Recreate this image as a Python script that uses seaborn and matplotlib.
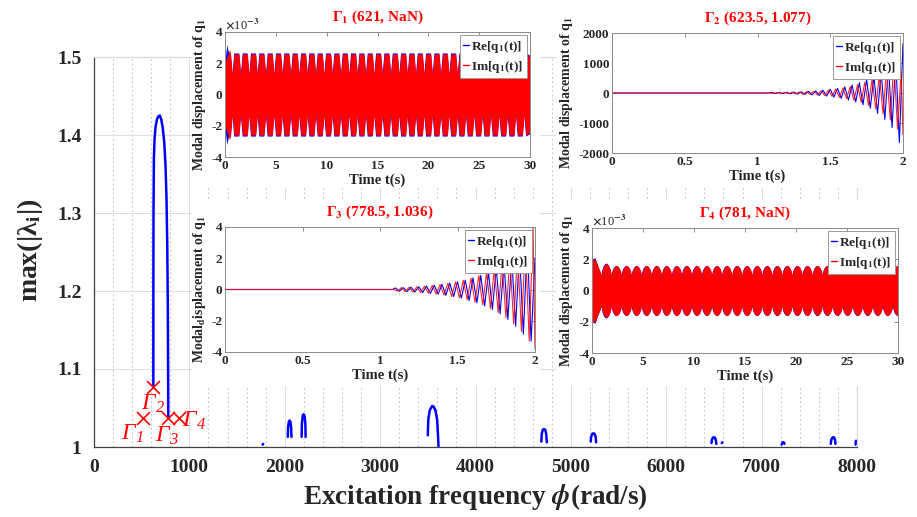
import numpy as np
import pandas as pd
import matplotlib
matplotlib.use("Agg")
import matplotlib.pyplot as plt
import seaborn as sns
from matplotlib.patches import Rectangle
from matplotlib.lines import Line2D

sns.set_style("white")
plt.rcParams.update({
    "font.family": ["Liberation Serif", "DejaVu Serif"],
    "font.weight": "bold",
    "axes.labelweight": "bold",
    "axes.titleweight": "bold",
    "mathtext.fontset": "stix",
    "axes.unicode_minus": False,
})

# ---------------- main chart data ----------------
main_xticks = [0, 1000, 2000, 3000, 4000, 5000, 6000, 7000, 8000]
main_xtick_labels = ["0", "1000", "2000", "3000", "4000", "5000", "6000", "7000", "8000"]
main_yticks = [1.0, 1.1, 1.2, 1.3, 1.4, 1.5]
main_ytick_labels = ["1", "1.1", "1.2", "1.3", "1.4", "1.5"]

peak_x = [622, 622.5, 624, 628, 635, 645, 660, 675, 690, 705, 720, 737, 750, 760, 768, 774, 777, 779]
peak_y = [1.077, 1.20, 1.30, 1.37, 1.395, 1.41, 1.42, 1.424, 1.425, 1.42, 1.41, 1.39, 1.36, 1.32, 1.26, 1.18, 1.10, 1.036]

small_x = [
    [1768, 1774],
    [2032, 2035, 2042, 2051, 2060, 2067, 2070],
    [2177, 2180, 2188, 2198, 2208, 2216, 2219],
    [3500, 3505, 3520, 3545, 3560, 3580, 3598, 3607, 3612],
    [4690, 4695, 4705, 4718, 4732, 4742, 4748],
    [5208, 5212, 5225, 5236, 5248, 5260, 5265],
    [6474, 6478, 6490, 6500, 6510, 6520, 6525],
    [6582, 6588],
    [7210, 7220, 7232, 7240],
    [7725, 7730, 7742, 7752, 7762, 7770, 7774],
    [7985, 7987, 7990],
]
small_y = [
    [1.003, 1.004],
    [1.013, 1.025, 1.032, 1.034, 1.032, 1.025, 1.013],
    [1.013, 1.030, 1.040, 1.042, 1.040, 1.030, 1.013],
    [1.015, 1.035, 1.047, 1.0525, 1.052, 1.047, 1.035, 1.015, 1.001],
    [1.007, 1.017, 1.022, 1.023, 1.022, 1.016, 1.006],
    [1.007, 1.013, 1.017, 1.0175, 1.017, 1.013, 1.006],
    [1.005, 1.009, 1.012, 1.0125, 1.012, 1.009, 1.004],
    [1.005, 1.006],
    [1.003, 1.006, 1.006, 1.004],
    [1.004, 1.009, 1.012, 1.0125, 1.012, 1.009, 1.004],
    [1.003, 1.007, 1.008],
]

gamma_names = ["Γ$_{\\mathregular{1}}$", "Γ$_{\\mathregular{2}}$",
               "Γ$_{\\mathregular{3}}$", "Γ$_{\\mathregular{4}}$"]
gamma_x = [514, 616, 773, 892]
gamma_y = [1.037, 1.077, 1.037, 1.037]

# ---------------- inset data ----------------
inset_titles = ["Γ$_\\mathbf{1}$ (621, NaN)", "Γ$_\\mathbf{2}$ (623.5, 1.077)",
                "Γ$_\\mathbf{3}$ (778.5, 1.036)", "Γ$_\\mathbf{4}$ (781, NaN)"]
legend_labels = ["Re[q$_\\mathbf{1}$(t)]", "Im[q$_\\mathbf{1}$(t)]"]

# Γ1: envelope (x10^-3) of the dense response
g1_init_t = [0.0, 0.0, 0.18, 0.30, 0.45, 0.55]
g1_re_init = [0.0, 2.2, 3.2, 2.8, 2.6, 2.6]
g1_im_init = [0.0, 2.0, 2.4, 2.6, 2.9, 2.6]
g1_gap_t = [0.72, 1.55, 2.37, 3.19, 4.01, 4.83, 5.65, 6.47, 7.29, 8.11, 8.93, 9.75,
            10.57, 11.39, 12.21, 13.03, 13.85, 14.67, 15.49, 16.31, 17.13, 17.95, 18.77,
            19.59, 20.41, 21.23, 22.05, 22.87, 23.69, 24.51, 25.33, 26.15, 26.97, 27.79,
            28.61, 29.43]
g1_re_top, g1_im_top, g1_core = 2.66, 2.6, 1.3
g1_end_re, g1_end_im = 2.5, 2.4

# Γ4: envelope (x10^-3)
g4_init_t = [0.0, 0.0, 0.30, 0.55, 0.80]
g4_re_init = [0.0, 2.0, 2.1, 1.6, 1.2]
g4_im_init = [0.0, 2.0, 2.0, 1.6, 1.2]
g4_bump_t = [1.40, 2.39, 3.37, 4.36, 5.34, 6.33, 7.31, 8.30, 9.28, 10.27, 11.25, 12.24,
             13.22, 14.21, 15.19, 16.18, 17.16, 18.15, 19.13, 20.12, 21.10, 22.09, 23.07,
             24.06, 25.04, 26.03, 27.01, 28.00, 28.98, 29.97]
g4_re_top, g4_im_top, g4_first_top, g4_cusp = 1.61, 1.6, 1.72, 1.0
bump_off = [-0.49, -0.40, -0.28, -0.14, 0.0, 0.14, 0.28, 0.40]
bump_frac = [0.0, 0.45, 0.75, 0.93, 1.0, 0.93, 0.75, 0.45]

# Γ2 / Γ3: extrema of the growing oscillation
re_t = [0.0, 1.08, 1.100, 1.125, 1.150, 1.175, 1.200, 1.225, 1.250, 1.275, 1.300, 1.325,
        1.350, 1.375, 1.400, 1.425, 1.450, 1.475, 1.500, 1.525, 1.550, 1.575, 1.600,
        1.625, 1.650, 1.675, 1.700, 1.725, 1.750, 1.775, 1.800, 1.825, 1.850, 1.875,
        1.900, 1.925, 1.950, 1.975, 2.000]
im_t = [0.0, 1.09, 1.1125, 1.1375, 1.1625, 1.1875, 1.2125, 1.2375, 1.2625, 1.2875,
        1.3125, 1.3375, 1.3625, 1.3875, 1.4125, 1.4375, 1.4625, 1.4875, 1.5125, 1.5375,
        1.5625, 1.5875, 1.6125, 1.6375, 1.6625, 1.6875, 1.7125, 1.7375, 1.7625, 1.7875,
        1.8125, 1.8375, 1.8625, 1.8875, 1.9125, 1.9375, 1.9625, 1.9875, 2.0]
g3_re_v = [0.0, 0.0, 0.10, -0.11, 0.12, -0.13, 0.15, -0.16, 0.18, -0.20, 0.22, -0.25,
           0.27, -0.30, 0.33, -0.37, 0.41, -0.45, 0.50, -0.56, 0.60, -0.70, 0.74, -0.85,
           0.90, -1.05, 1.10, -1.28, 1.35, -1.55, 1.65, -1.92, 2.0, -2.35, 2.45, -2.85,
           2.9, -3.3, 2.0]
g3_im_v = [0.0, 0.0, -0.10, 0.12, -0.13, 0.14, -0.16, 0.17, -0.19, 0.21, -0.24, 0.26,
           -0.29, 0.32, -0.35, 0.39, -0.44, 0.48, -0.53, 0.59, -0.65, 0.73, -0.80, 0.90,
           -0.98, 1.10, -1.20, 1.35, -1.48, 1.65, -1.80, 2.05, -2.2, 2.5, -2.7, 3.05,
           -3.3, 4.0, -3.8]
g2_re_v = [0, 0, 15, -17, 19, -22, 25, -29, 33, -37, 42, -48, 55, -62, 71, -81, 92, -105,
           120, -137, 156, -178, 203, -231, 263, -300, 342, -390, 445, -507, 560, -680,
           720, -880, 900, -1150, 1150, -1650, 1650]
g2_im_v = [0, 0, -14, 16, -18, 20, -23, 27, -30, 34, -39, 44, -50, 57, -65, 74, -85, 97,
           -110, 126, -143, 163, -186, 212, -241, 275, -314, 358, -408, 465, -530, 600,
           -690, 800, -900, 1000, -1200, 700, -1400]

BLUE, RED = "#0000FF", "#FF0000"

# ---------------- figure ----------------
W, H = 917, 517
fig = plt.figure(figsize=(W / 100, H / 100), dpi=100)


def frect(l, t, r, b):
    return [l / W, 1 - b / H, (r - l) / W, (b - t) / H]


ax = fig.add_axes(frect(94, 57, 857, 447))
ax.set_zorder(0)

rows = []
for i, (xs, ys) in enumerate(zip([peak_x] + small_x, [peak_y] + small_y)):
    for xv, yv in zip(xs, ys):
        rows.append((i, xv, yv))
df_main = pd.DataFrame(rows, columns=["seg", "x", "y"])
sns.lineplot(data=df_main, x="x", y="y", units="seg", estimator=None, sort=False,
             color=BLUE, lw=1.8, ax=ax, legend=False)
sns.scatterplot(x=gamma_x, y=gamma_y, marker="x", s=85, color=RED, linewidth=1.2, ax=ax,
                zorder=5, legend=False)
lab_pos = [(405, 1.017), (617, 1.055), (768, 1.014), (1045, 1.033)]
for name, (lx, ly) in zip(gamma_names, lab_pos):
    ax.text(lx, ly, name, color=RED, fontsize=17, ha="center", va="center",
            fontweight="normal", fontstyle="italic", zorder=6)

ax.set_xlim(0, 8000)
ax.set_ylim(1.0, 1.5)
ax.set_xticks(main_xticks)
ax.set_xticklabels(main_xtick_labels, fontsize=14)
ax.set_xticks(np.arange(0, 8001, 200), minor=True)
ax.set_yticks(main_yticks)
ax.set_yticklabels(main_ytick_labels, fontsize=14)
ax.tick_params(axis="both", which="major", direction="in", length=5, width=0.8,
               color="#404040", pad=9)
ax.tick_params(axis="both", which="minor", length=0)
ax.grid(which="major", color="#dedede", lw=0.8, ls="-")
ax.grid(which="minor", axis="x", color="#c4c4c4", lw=0.8, ls=(0, (1.5, 2.5)))
ax.set_axisbelow(True)
for s in ["left", "bottom"]:
    ax.spines[s].set_color("#404040")
    ax.spines[s].set_linewidth(0.9)
for s in ["top", "right"]:
    ax.spines[s].set_color("#d8d8d8")
ax.set_xlabel("")
ax.set_ylabel("")
fig.text(475 / W, 1 - 497 / H, "Excitation frequency $\\phi$(rad/s)", fontsize=19.5,
         ha="center", va="center")
fig.text(30 / W, 1 - 250 / H, "max(|λ$_\\mathbf{i}$|)", fontsize=20, rotation=90,
         ha="center", va="center")

# white panels carrying the insets
for (l, t, r, b) in [(192, 0, 540, 188), (556, 0, 917, 188),
                     (192, 200, 540, 386), (556, 200, 917, 386)]:
    fig.add_artist(Rectangle((l / W, 1 - b / H), (r - l) / W, (b - t) / H,
                             transform=fig.transFigure, facecolor="white",
                             edgecolor="none", zorder=1))


def make_inset(rect, title):
    a = fig.add_axes(frect(*rect))
    a.set_zorder(2)
    a.set_facecolor("white")
    a.set_title(title, color=RED, fontsize=11, pad=8)
    a.tick_params(direction="in", length=3, width=0.6, color="#777777", top=True,
                  right=True, labelsize=9.5, pad=2)
    for s in a.spines.values():
        s.set_color("#8a8a8a")
        s.set_linewidth(0.7)
    return a


def label_inset(a, ylab):
    a.set_xlabel("Time t(s)", fontsize=10.5, labelpad=1)
    a.set_ylabel(ylab, fontsize=10, labelpad=2)


def add_legend(a):
    h = [Line2D([0], [0], color=BLUE, lw=1), Line2D([0], [0], color=RED, lw=1)]
    leg = a.legend(h, legend_labels, loc="upper right", fontsize=9.5, handlelength=0.4,
                   handletextpad=0.2, borderpad=0.25, labelspacing=0.3, frameon=True,
                   fancybox=False, edgecolor="#999999", framealpha=1, borderaxespad=0.25)
    leg.get_frame().set_linewidth(0.7)
    leg.set_zorder(10)


def notch_env(init_t, init_v, gaps, top, core, end_t, end_v, shift=0.0):
    t, v = list(init_t), list(init_v)
    for g in gaps:
        t += [g + shift - 0.17, g + shift, g + shift + 0.17]
        v += [top, core, top]
    t.append(end_t)
    v.append(end_v)
    return np.array(t), np.array(v)


def bump_env(init_t, init_v, centers, top, first_top, cusp, shift=0.0):
    t, v = list(init_t), list(init_v)
    for k, c in enumerate(centers):
        tp = first_top if k == 0 else top
        for o, f in zip(bump_off, bump_frac):
            t.append(c + shift + o)
            v.append(cusp + f * (tp - cusp))
    return np.array(t), np.array(v)


ylab_std = "Modal displacement of q$_\\mathbf{1}$"

# ---- inset 1 ----
a1 = make_inset((225, 32, 530, 157), inset_titles[0])
t, v = notch_env(g1_init_t, g1_re_init, g1_gap_t, g1_re_top, g1_core, 30.0, g1_end_re, -0.03)
a1.fill_between(t, -v, v, color=BLUE, lw=0)
t, v = notch_env(g1_init_t, g1_im_init, g1_gap_t, g1_im_top, g1_core, 30.0, g1_end_im)
a1.fill_between(t, -v, v, color=RED, lw=0)
a1.set_xlim(0, 30)
a1.set_ylim(-4, 4)
a1.set_xticks([0, 5, 10, 15, 20, 25, 30])
a1.set_xticklabels(["0", "5", "10", "15", "20", "25", "30"])
a1.set_yticks([-4, -2, 0, 2, 4])
a1.set_yticklabels(["-4", "-2", "0", "2", "4"])
a1.text(0.0, 1.005, "$\\times$10$^{-3}$", transform=a1.transAxes, fontsize=9,
        fontweight="normal", ha="left", va="bottom")
label_inset(a1, ylab_std)
add_legend(a1)

# ---- inset 2 ----
a2 = make_inset((612, 33, 903, 153), inset_titles[1])
sns.lineplot(x=re_t, y=g2_re_v, sort=False, estimator=None, color=BLUE, lw=0.8, ax=a2)
sns.lineplot(x=im_t, y=g2_im_v, sort=False, estimator=None, color=RED, lw=0.8, alpha=0.85, ax=a2)
a2.set_xlim(0, 2)
a2.set_ylim(-2000, 2000)
a2.set_xticks([0, 0.5, 1, 1.5, 2])
a2.set_xticklabels(["0", "0.5", "1", "1.5", "2"])
a2.set_yticks([-2000, -1000, 0, 1000, 2000])
a2.set_yticklabels(["-2000", "-1000", "0", "1000", "2000"])
label_inset(a2, ylab_std)
add_legend(a2)

# ---- inset 3 ----
a3 = make_inset((225, 227, 535, 352), inset_titles[2])
sns.lineplot(x=re_t, y=g3_re_v, sort=False, estimator=None, color=BLUE, lw=0.8, ax=a3)
sns.lineplot(x=im_t, y=g3_im_v, sort=False, estimator=None, color=RED, lw=0.8, alpha=0.85, ax=a3)
a3.set_xlim(0, 2)
a3.set_ylim(-4, 4)
a3.set_xticks([0, 0.5, 1, 1.5, 2])
a3.set_xticklabels(["0", "0.5", "1", "1.5", "2"])
a3.set_yticks([-4, -2, 0, 2, 4])
a3.set_yticklabels(["-4", "-2", "0", "2", "4"])
label_inset(a3, "Modal$_\\mathbf{d}$isplacement of q$_\\mathbf{1}$")
add_legend(a3)

# ---- inset 4 ----
a4 = make_inset((592, 228, 898, 353), inset_titles[3])
t, v = bump_env(g4_init_t, g4_re_init, g4_bump_t, g4_re_top, g4_first_top + 0.04, g4_cusp, -0.03)
a4.fill_between(t, -v, v, color=BLUE, lw=0)
t, v = bump_env(g4_init_t, g4_im_init, g4_bump_t, g4_im_top, g4_first_top, g4_cusp)
a4.fill_between(t, -v, v, color=RED, lw=0)
a4.set_xlim(0, 30)
a4.set_ylim(-4, 4)
a4.set_xticks([0, 5, 10, 15, 20, 25, 30])
a4.set_xticklabels(["0", "5", "10", "15", "20", "25", "30"])
a4.set_yticks([-4, -2, 0, 2, 4])
a4.set_yticklabels(["-4", "-2", "0", "2", "4"])
a4.text(0.0, 1.005, "$\\times$10$^{-3}$", transform=a4.transAxes, fontsize=9,
        fontweight="normal", ha="left", va="bottom")
label_inset(a4, ylab_std)
add_legend(a4)

fig.savefig("out.png", dpi=100)
